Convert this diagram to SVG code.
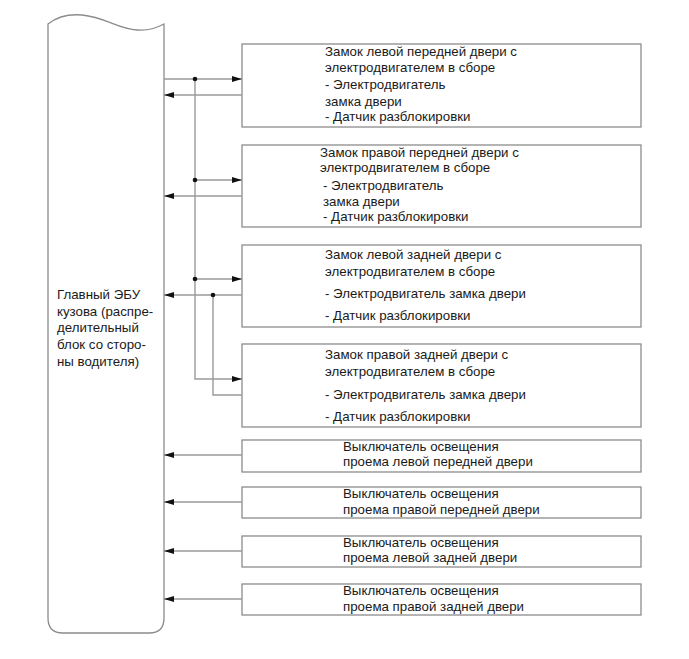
<svg xmlns="http://www.w3.org/2000/svg" width="689" height="659" viewBox="0 0 689 659">
<defs>
<style>
.box{fill:#fff;stroke:#8c8c8c;stroke-width:1.3}
.ln{fill:none;stroke:#9a9a9a;stroke-width:1.4}
.t{font-family:"Liberation Sans",Arial,sans-serif;font-size:13.3px;fill:#1a1a1a}
.dot{fill:#111}
</style>
<marker id="ah" viewBox="0 0 10 6" refX="10" refY="3" markerWidth="10" markerHeight="6" markerUnits="userSpaceOnUse" orient="auto">
<path d="M0,0 L10,3 L0,6 Z" fill="#111"/>
</marker>
</defs>
<rect width="689" height="659" fill="#fff"/>

<g id="ecu">
<path class="box" d="M48,24 C58,16 70,14 82,15 C105,17 118,29 137,30 C150,31 158,27 164,24 L164,618 Q164,633 149,633 L63,633 Q48,633 48,618 Z"/>
<text class="t" x="57" y="299">Главный ЭБУ</text>
<text class="t" x="57" y="316">кузова (распре-</text>
<text class="t" x="57" y="332">делительный</text>
<text class="t" x="57" y="349">блок со сторо-</text>
<text class="t" x="57" y="366">ны водителя)</text>
</g>

<g id="box1">
<rect class="box" x="242" y="44" width="399" height="83"/>
<text class="t" x="325" y="56">Замок левой передней двери с</text>
<text class="t" x="325" y="72">электродвигателем в сборе</text>
<text class="t" x="325" y="89">- Электродвигатель</text>
<text class="t" x="325" y="106">замка двери</text>
<text class="t" x="325" y="121">- Датчик разблокировки</text>
</g>

<g id="box2">
<rect class="box" x="242" y="145" width="399" height="82"/>
<text class="t" x="320" y="157">Замок правой передней двери с</text>
<text class="t" x="320" y="172">электродвигателем в сборе</text>
<text class="t" x="323" y="190">- Электродвигатель</text>
<text class="t" x="323" y="206">замка двери</text>
<text class="t" x="323" y="221">- Датчик разблокировки</text>
</g>

<g id="box3">
<rect class="box" x="242" y="245" width="399" height="82"/>
<text class="t" x="325" y="259">Замок левой задней двери с</text>
<text class="t" x="325" y="276">электродвигателем в сборе</text>
<text class="t" x="325" y="298">- Электродвигатель замка двери</text>
<text class="t" x="325" y="320">- Датчик разблокировки</text>
</g>

<g id="box4">
<rect class="box" x="242" y="344" width="399" height="83"/>
<text class="t" x="325" y="359">Замок правой задней двери с</text>
<text class="t" x="325" y="376">электродвигателем в сборе</text>
<text class="t" x="325" y="399">- Электродвигатель замка двери</text>
<text class="t" x="325" y="421">- Датчик разблокировки</text>
</g>

<g id="box5">
<rect class="box" x="242" y="440" width="399" height="32"/>
<text class="t" x="343" y="451">Выключатель освещения</text>
<text class="t" x="343" y="466">проема левой передней двери</text>
</g>

<g id="box6">
<rect class="box" x="242" y="487" width="399" height="31"/>
<text class="t" x="343" y="498">Выключатель освещения</text>
<text class="t" x="343" y="514">проема правой передней двери</text>
</g>

<g id="box7">
<rect class="box" x="242" y="536" width="399" height="31"/>
<text class="t" x="343" y="547">Выключатель освещения</text>
<text class="t" x="343" y="562">проема левой задней двери</text>
</g>

<g id="box8">
<rect class="box" x="242" y="584" width="399" height="31"/>
<text class="t" x="343" y="595">Выключатель освещения</text>
<text class="t" x="343" y="611">проема правой задней двери</text>
</g>

<g id="connectors">
<path class="ln" d="M164,79 L242,79" marker-end="url(#ah)"/>
<path class="ln" d="M242,95 L164,95" marker-end="url(#ah)"/>
<path class="ln" d="M195,79 L195,379 L242,379" marker-end="url(#ah)"/>
<path class="ln" d="M195,180 L242,180" marker-end="url(#ah)"/>
<path class="ln" d="M242,196 L164,196" marker-end="url(#ah)"/>
<path class="ln" d="M195,279 L242,279" marker-end="url(#ah)"/>
<path class="ln" d="M242,295 L164,295" marker-end="url(#ah)"/>
<path class="ln" d="M242,395 L213,395 L213,295"/>
<path class="ln" d="M242,455 L164,455" marker-end="url(#ah)"/>
<path class="ln" d="M242,502 L164,502" marker-end="url(#ah)"/>
<path class="ln" d="M242,551 L164,551" marker-end="url(#ah)"/>
<path class="ln" d="M242,599 L164,599" marker-end="url(#ah)"/>
<circle class="dot" cx="195" cy="79" r="2.3"/>
<circle class="dot" cx="195" cy="180" r="2.3"/>
<circle class="dot" cx="195" cy="279" r="2.3"/>
<circle class="dot" cx="213" cy="295" r="2.3"/>
</g>
</svg>
